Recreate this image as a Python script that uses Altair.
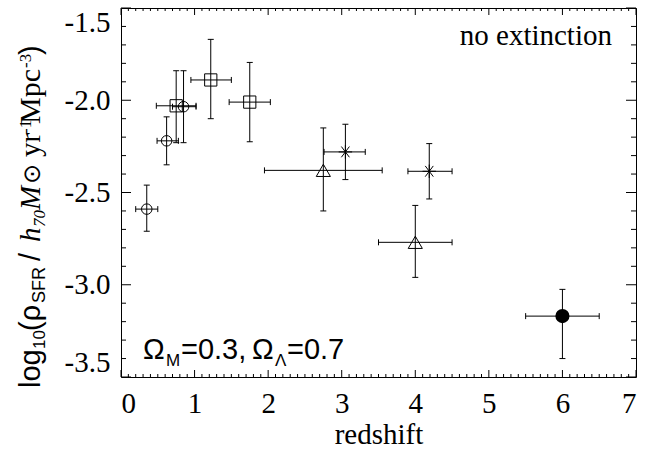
import altair as alt
import pandas as pd

# ---------------- data ----------------
z       = [0.35, 0.62, 0.75, 0.85, 1.22, 1.75, 2.75, 3.05, 4.00, 4.19, 6.00]
z_lo    = [0.20, 0.49, 0.48, 0.70, 0.95, 1.47, 1.95, 2.76, 3.50, 3.90, 5.50]
z_hi    = [0.50, 0.78, 1.02, 1.02, 1.50, 2.03, 3.55, 3.32, 4.50, 4.50, 6.50]
lsfr    = [-2.59, -2.22, -2.03, -2.035, -1.89, -2.01, -2.38, -2.28, -2.77, -2.385, -3.17]
lsfr_lo = [-2.71, -2.35, -2.23, -2.23, -2.10, -2.225, -2.60, -2.43, -2.96, -2.535, -3.40]
lsfr_hi = [-2.46, -2.09, -1.84, -1.84, -1.67, -1.795, -2.15, -2.13, -2.57, -2.235, -3.025]
symbol  = ['circle', 'circle', 'square', 'circle', 'square', 'square',
           'triangle', 'asterisk', 'triangle', 'asterisk', 'filled']

x_major = [0, 1, 2, 3, 4, 5, 6, 7]
x_minor = [round(i / 10, 1) for i in range(0, 71) if i % 10 != 0]
y_major = [-3.5, -3.0, -2.5, -2.0, -1.5]
y_minor = [round(-3.5 + i / 10, 1) for i in range(0, 21) if i % 5 != 0]

df = pd.DataFrame(dict(z=z, z_lo=z_lo, z_hi=z_hi, lsfr=lsfr,
                       lsfr_lo=lsfr_lo, lsfr_hi=lsfr_hi, symbol=symbol))

W, H = 515, 369
PL, PT = 121, 8
SERIF = "'Liberation Serif', 'Times New Roman', serif"
SANS = "'Liberation Sans', Arial, sans-serif"

xscale = alt.Scale(domain=[0, 7], nice=False, zero=False)
yscale = alt.Scale(domain=[-3.5, -1.5], nice=False, zero=False)

xaxis = alt.Axis(values=x_major, format="d", labelFont=SERIF, labelFontSize=29,
                 labelColor="black", labelPadding=12, ticks=False, domain=False,
                 grid=False, title="redshift", titleFont=SERIF, titleFontSize=29,
                 titleFontWeight="normal", titleColor="black", titlePadding=2)
yaxis = alt.Axis(values=y_major, labelExpr="replace(format(datum.value, '.1f'), '\u2212', '-')",
                 labelFont=SERIF, labelFontSize=29, labelColor="black",
                 labelPadding=11, labelFlush=True, ticks=False, domain=False,
                 grid=False, title="")


def X(f):
    return alt.X(f, type="quantitative", scale=xscale, axis=xaxis)


def Y(f):
    return alt.Y(f, type="quantitative", scale=yscale, axis=yaxis)


base = alt.Chart(df)

hbar = base.mark_rule(color="black", strokeWidth=1).encode(x=X("z_lo"), x2="z_hi", y=Y("lsfr"))
vbar = base.mark_rule(color="black", strokeWidth=1).encode(x=X("z"), y=Y("lsfr_lo"), y2="lsfr_hi")

VCAP = "M0,-1L0,1"
HCAP = "M-1,0L1,0"
cap_kw = dict(filled=False, color="black", strokeWidth=1, size=36, opacity=1)
cap_l = base.mark_point(shape=VCAP, **cap_kw).encode(x=X("z_lo"), y=Y("lsfr"))
cap_r = base.mark_point(shape=VCAP, **cap_kw).encode(x=X("z_hi"), y=Y("lsfr"))
cap_b = base.mark_point(shape=HCAP, **cap_kw).encode(x=X("z"), y=Y("lsfr_lo"))
cap_t = base.mark_point(shape=HCAP, **cap_kw).encode(x=X("z"), y=Y("lsfr_hi"))


def sym(name, shape, size, filled=False):
    return base.transform_filter(alt.datum.symbol == name).mark_point(
        shape=shape, size=size, filled=filled, color="black", strokeWidth=1, opacity=1
    ).encode(x=X("z"), y=Y("lsfr"))


ASTER = "M-0.6,-0.8L0.6,0.8M-0.6,0.8L0.6,-0.8M0,-1L0,1M-1,0L1,0"
m_circ = sym("circle", "circle", 110)
m_sq = sym("square", "square", 150)
m_tri = sym("triangle", "triangle-up", 200)
m_ast = sym("asterisk", ASTER, 180)
m_fill = sym("filled", "circle", 200, filled=True)

# ---------------- inward ticks on all four sides ----------------
def tickdf(v):
    return pd.DataFrame({"t": v})

tk = dict(color="black", strokeWidth=1)
xb_maj = alt.Chart(tickdf(x_major)).mark_rule(**tk).encode(x=X("t"), y=alt.value(H), y2=alt.value(H - 7))
xb_min = alt.Chart(tickdf(x_minor)).mark_rule(**tk).encode(x=X("t"), y=alt.value(H), y2=alt.value(H - 3))
xt_maj = alt.Chart(tickdf(x_major)).mark_rule(**tk).encode(x=X("t"), y=alt.value(0), y2=alt.value(7))
xt_min = alt.Chart(tickdf(x_minor)).mark_rule(**tk).encode(x=X("t"), y=alt.value(0), y2=alt.value(3))
yl_maj = alt.Chart(tickdf(y_major)).mark_rule(**tk).encode(y=Y("t"), x=alt.value(0), x2=alt.value(10))
yl_min = alt.Chart(tickdf(y_minor)).mark_rule(**tk).encode(y=Y("t"), x=alt.value(0), x2=alt.value(5))
yr_maj = alt.Chart(tickdf(y_major)).mark_rule(**tk).encode(y=Y("t"), x=alt.value(W), x2=alt.value(W - 10))
yr_min = alt.Chart(tickdf(y_minor)).mark_rule(**tk).encode(y=Y("t"), x=alt.value(W), x2=alt.value(W - 5))

# ---------------- text annotations ----------------
dummy = pd.DataFrame({"a": [0]})


def txt(s, px, py, size, font, italic=False, angle=0, align="left"):
    kw = dict(text=s, fontSize=size, font=font, color="black", align=align,
              baseline="alphabetic", fontStyle="italic" if italic else "normal")
    if angle:
        kw["angle"] = angle
    return alt.Chart(dummy).mark_text(**kw).encode(x=alt.value(px - PL), y=alt.value(py - PT))


texts = [
    txt("no extinction", 612, 45, 29, SERIF, align="right"),
    # Omega annotation
    txt("\u03a9", 143, 359, 29, SANS),
    txt("M", 166, 366, 17, SANS),
    txt("=0.3,", 181, 359, 29, SANS),
    txt("\u03a9", 252, 359, 29, SANS),
    txt("\u039b", 275, 366, 17, SANS),
    txt("=0.7", 287, 359, 29, SANS),
]

# y-axis title, rotated, built from pieces (start position = lower end)
MB, SB, PB = 40, 45, 31   # baselines for main, subscript, superscript
ytitle = [
    ("log", 388, MB, 29, SANS, False),
    ("10", 349, SB, 17, SANS, False),
    ("(\u03c1", 331, MB, 29, SANS, False),
    ("SFR", 303, SB, 18, SANS, False),
    ("/", 261, MB, 29, SANS, False),
    ("h", 242, MB, 29, SERIF, True),
    ("70", 227, SB, 17, SERIF, True),
    ("M", 210, MB, 29, SERIF, True),
    ("\u2299", 184, MB, 24, "'DejaVu Sans', sans-serif", False),
    ("yr", 157, MB, 29, SERIF, False),
    ("-1", 134, PB, 17, SERIF, False),
    ("Mpc", 124, MB, 30, SERIF, False),
    ("-3", 68, PB, 17, SERIF, False),
    (")", 55, MB, 29, SANS, False),
]
for s, py, px, size, font, it in ytitle:
    texts.append(txt(s, px, py, size, font, italic=it, angle=270))

chart = alt.layer(
    hbar, vbar, cap_l, cap_r, cap_b, cap_t,
    m_circ, m_sq, m_tri, m_ast, m_fill,
    xb_maj, xb_min, xt_maj, xt_min, yl_maj, yl_min, yr_maj, yr_min,
    *texts,
).properties(
    width=W, height=H,
    padding={"left": PL, "top": PT, "right": 651 - PL - W, "bottom": 453 - PT - H},
    autosize=alt.AutoSizeParams(type="none"),
    background="white",
).configure_view(stroke="black", strokeWidth=1)

chart.save("out.html", embed_options={"renderer": "svg", "actions": False})
